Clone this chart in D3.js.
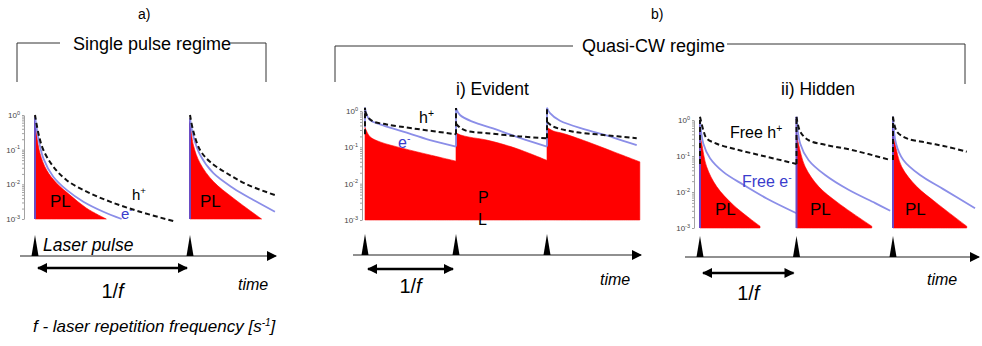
<!DOCTYPE html>
<html lang="en">
<head>
<meta charset="UTF-8">
<script src="https://cdn.jsdelivr.net/npm/d3@7"></script>
<title>Single pulse vs quasi-CW regime</title>
<style>
    body { margin: 0; background: #fff; }
    svg { display: block; font-family: "Liberation Sans", Arial, sans-serif; }
</style>
</head>
<body>
<script>
// time in laser periods (1/f) after each pulse, value = log10 of normalised density

// a) single pulse regime
const aPulses = [0, 1];
const aPL1 = [[0, -0.02], [0.011, -0.58], [0.032, -1.1], [0.075, -1.59], [0.14, -1.97], [0.226, -2.31], [0.333, -2.69], [0.46, -3.0]];
const aPL2 = [[0, -0.1], [0.022, -0.87], [0.065, -1.39], [0.151, -1.92], [0.28, -2.4], [0.462, -3.0]];
const aE1 = [[0, -0.05], [0.022, -0.67], [0.054, -1.25], [0.118, -1.78], [0.204, -2.16], [0.312, -2.5], [0.441, -2.79], [0.559, -3.0]];
const aE2 = [[0, -0.1], [0.022, -0.62], [0.065, -1.15], [0.151, -1.68], [0.28, -2.11], [0.409, -2.45], [0.548, -2.79]];
const aH1 = [[0, 0], [0.022, -0.53], [0.054, -1.01], [0.118, -1.49], [0.204, -1.88], [0.333, -2.21], [0.484, -2.5], [0.677, -2.79], [0.892, -3.06]];
const aH2 = [[0, 0], [0.022, -0.48], [0.065, -1.01], [0.129, -1.35], [0.237, -1.68], [0.366, -2.0], [0.548, -2.31]];

// b-i) quasi-CW, evident
const bPulses = [0, 1, 2];
const bPL1 = [[0, -0.45], [0.055, -0.71], [0.165, -0.85], [0.42, -1.03], [0.714, -1.21], [1.0, -1.38]];
const bPL2 = [[0, -0.6], [0.05, -0.66], [0.15, -0.72], [0.337, -0.8], [0.65, -1.02], [1.0, -1.36]];
const bPL3 = [[0, -0.45], [0.07, -0.55], [0.18, -0.62], [0.436, -0.84], [0.729, -1.12], [1.02, -1.4]];
const bE1 = [[0, 0.09], [0.019, -0.11], [0.055, -0.25], [0.165, -0.37], [0.42, -0.57], [0.714, -0.8], [1.0, -0.98]];
const bE2 = [[0, 0.08], [0.044, -0.11], [0.187, -0.3], [0.407, -0.48], [0.7, -0.74], [1.0, -0.98]];
const bE3 = [[0, 0.09], [0.033, -0.06], [0.143, -0.27], [0.436, -0.52], [0.729, -0.73], [0.986, -0.94]];
const bH1 = [[0, 0], [0.036, -0.18], [0.091, -0.29], [0.238, -0.37], [0.531, -0.48], [1.0, -0.64]];
const bH2 = [[0, -0.35], [0.05, -0.47], [0.12, -0.55], [0.34, -0.61], [0.7, -0.7], [1.0, -0.75]];
const bH3 = [[0, -0.3], [0.07, -0.43], [0.29, -0.57], [0.62, -0.66], [0.986, -0.75]];

// b-ii) quasi-CW, hidden
const cPulses = [0, 1, 2];
const cPL1 = [[0, -0.39], [0.018, -0.65], [0.069, -1.3], [0.173, -1.85], [0.345, -2.36], [0.622, -2.95]];
const cPL2 = [[0, -0.39], [0.02, -0.65], [0.09, -1.3], [0.23, -1.85], [0.435, -2.31], [0.78, -2.95]];
const cPL3 = [[0, -0.39], [0.021, -0.65], [0.09, -1.3], [0.246, -1.85], [0.453, -2.31], [0.764, -2.95]];
const cE1 = [[0, 0], [0.034, -0.65], [0.104, -1.06], [0.241, -1.44], [0.449, -1.8], [0.691, -2.18], [1.0, -2.59]];
const cE2 = [[0, 0.09], [0.038, -0.65], [0.124, -1.11], [0.297, -1.53], [0.539, -1.94], [0.816, -2.31], [0.971, -2.52]];
const cE3 = [[0, 0.09], [0.031, -0.65], [0.107, -1.11], [0.28, -1.53], [0.521, -1.92], [0.85, -2.45]];
const cH1 = [[0, 0.09], [0.034, -0.28], [0.069, -0.51], [0.173, -0.66], [0.38, -0.82], [0.656, -1.0], [1.0, -1.22]];
const cH2 = [[0, 0.09], [0.038, -0.32], [0.124, -0.56], [0.297, -0.69], [0.57, -0.83], [0.97, -1.11]];
const cH3 = [[0, 0.09], [0.04, -0.32], [0.143, -0.51], [0.35, -0.63], [0.556, -0.74], [0.764, -0.88]];

// y axis decades
const yDecades = [0, -1, -2, -3];
const yDecadeLabels = ["0", "-1", "-2", "-3"];

const RED = "#ff0000", BLUE = "#8b8ee8", EDGE = "#6a4bc4", TXTBLUE = "#3a3ccc";

const svg = d3.select("body").append("svg")
    .attr("width", 982)
    .attr("height", 346);

const defs = svg.append("defs");
defs.append("marker")
    .attr("id", "head")
    .attr("viewBox", "0 0 10 10")
    .attr("refX", 9).attr("refY", 5)
    .attr("markerUnits", "userSpaceOnUse")
    .attr("markerWidth", 11).attr("markerHeight", 10)
    .attr("orient", "auto-start-reverse")
    .append("path").attr("d", "M0,0L10,5L0,10Z").attr("fill", "#000");

const panels = [
    { pulses: aPulses, pl: [aPL1, aPL2], e: [aE1, aE2], h: [aH1, aH2],
      x0: 35, period: 155, yTop: 115, yBot: 219, yAxisX: 24,
      axisY: 256, axisX: [20, 276], arrowY: 268, fY: 298, time: [238, 290],
      edge: true, hJoin: false },
    { pulses: bPulses, pl: [bPL1, bPL2, bPL3], e: [bE1, bE2, bE3], h: [bH1, bH2, bH3],
      x0: 365, period: 91, yTop: 111, yBot: 220, yAxisX: 362,
      axisY: 255, axisX: [353, 641], arrowY: 269, fY: 293, time: [600, 285],
      edge: false, hJoin: true },
    { pulses: cPulses, pl: [cPL1, cPL2, cPL3], e: [cE1, cE2, cE3], h: [cH1, cH2, cH3],
      x0: 700, period: 96.5, yTop: 120, yBot: 228, yAxisX: 694,
      axisY: 257, axisX: [685, 979], arrowY: 273, fY: 300, time: [927, 285],
      edge: true, hJoin: true }
];

const last = arr => arr[arr.length - 1][1];
const smooth = d3.curveCatmullRom.alpha(0.5);

panels.forEach(p => {
    const x = d3.scaleLinear().domain([0, 1]).range([p.x0, p.x0 + p.period]);
    const y = d3.scaleLog().domain([1e-3, 1]).range([p.yBot, p.yTop]);
    const g = svg.append("g");

    const pts = (arr, k) => arr.map(([t, v]) => ({ t: p.pulses[k] + t, v: Math.pow(10, v) }));
    const area = d3.area().curve(smooth)
        .x(d => x(d.t)).y0(y(1e-3)).y1(d => y(d.v));
    const line = d3.line().curve(smooth)
        .x(d => x(d.t)).y(d => y(d.v));
    const vline = (k, from, to) => g.append("line")
        .attr("x1", x(p.pulses[k])).attr("x2", x(p.pulses[k]))
        .attr("y1", y(Math.pow(10, from))).attr("y2", y(Math.pow(10, to)));

    // log axis
    const ax = g.append("g")
        .attr("transform", `translate(${p.yAxisX},0)`)
        .call(d3.axisLeft(y).tickValues(y.ticks()).tickSize(2).tickSizeOuter(0).tickFormat(""));
    ax.select(".domain").attr("stroke", "#8a8a8a").attr("stroke-width", 0.8);
    ax.selectAll(".tick line").attr("stroke", "#8a8a8a").attr("stroke-width", 0.8);
    yDecades.forEach((d, i) => {
        const t = g.append("text")
            .attr("x", p.yAxisX - 4).attr("y", y(Math.pow(10, d)) + 3)
            .attr("text-anchor", "end").attr("font-size", 8).attr("fill", "#444");
        t.append("tspan").text("10");
        t.append("tspan").attr("dy", -3.5).attr("font-size", 5.5).text(yDecadeLabels[i]);
    });

    // PL
    p.pl.forEach((arr, k) => {
        g.append("path").attr("d", area(pts(arr, k)))
            .attr("fill", RED).attr("stroke", RED).attr("stroke-width", 0.6);
    });

    // free electrons
    p.e.forEach((arr, k) => {
        const from = p.edge ? -3 : (k > 0 ? last(p.e[k - 1]) : p.pl[0][0][1]);
        vline(k, from, arr[0][1])
            .attr("stroke", p.edge ? EDGE : BLUE).attr("stroke-width", p.edge ? 2 : 1.8);
        g.append("path").attr("d", line(pts(arr, k)))
            .attr("fill", "none").attr("stroke", BLUE).attr("stroke-width", 1.8);
    });

    // free holes
    p.h.forEach((arr, k) => {
        if (p.hJoin) {
            const from = k > 0 ? last(p.h[k - 1]) : last(p.h[0]);
            vline(k, from, p.e[k][0][1])
                .attr("stroke", "#111").attr("stroke-width", 2).attr("stroke-dasharray", "5,3");
        }
        g.append("path").attr("d", line(pts(arr, k)))
            .attr("fill", "none").attr("stroke", "#111")
            .attr("stroke-width", 2).attr("stroke-dasharray", "5,3");
    });

    // time axis and laser pulses
    g.append("line")
        .attr("x1", p.axisX[0]).attr("x2", p.axisX[1])
        .attr("y1", p.axisY).attr("y2", p.axisY)
        .attr("stroke", "#222").attr("stroke-width", 1.2)
        .attr("marker-end", "url(#head)");
    g.selectAll(".pulse").data(p.pulses).enter().append("path")
        .attr("d", d => `M${x(d) - 3.5},${p.axisY}L${x(d)},${p.axisY - 21}L${x(d) + 3.5},${p.axisY}Z`)
        .attr("fill", "#000");

    // 1/f arrow
    g.append("line")
        .attr("x1", x(p.pulses[0]) + 3).attr("x2", x(p.pulses[1]) - 3)
        .attr("y1", p.arrowY).attr("y2", p.arrowY)
        .attr("stroke", "#000").attr("stroke-width", 2.4)
        .attr("marker-start", "url(#head)").attr("marker-end", "url(#head)");
    const f = g.append("text")
        .attr("x", (x(p.pulses[0]) + x(p.pulses[1])) / 2).attr("y", p.fY)
        .attr("text-anchor", "middle").attr("font-size", 20);
    f.append("tspan").text("1/");
    f.append("tspan").attr("font-style", "italic").text("f");

    g.append("text").attr("x", p.time[0]).attr("y", p.time[1])
        .attr("font-size", 16).attr("font-style", "italic").text("time");
});

// text helper with optional superscript
function label(x, y, txt, sup, size, color, extra) {
    const t = svg.append("text").attr("x", x).attr("y", y)
        .attr("font-size", size).attr("fill", color || "#000");
    if (extra) t.attr("font-style", extra);
    t.append("tspan").text(txt);
    if (sup) t.append("tspan").attr("dy", -size * 0.4).attr("font-size", size * 0.65).text(sup);
    return t;
}

// headers and brackets
label(138, 19, "a)", null, 14);
label(651, 19, "b)", null, 14);
label(73, 50, "Single pulse regime", null, 18);
label(582, 52, "Quasi-CW regime", null, 18);
label(456, 95, "i) Evident", null, 17.5);
label(781, 95, "ii) Hidden", null, 17.5);
svg.append("path")
    .attr("d", "M17,82V43H60M230,43H266V82M335,82V46H573M727,44H965V84")
    .attr("fill", "none").attr("stroke", "#333").attr("stroke-width", 1);

// curve labels
label(50, 207, "PL", null, 17);
label(200, 207, "PL", null, 17);
label(132, 200, "h", "+", 15);
label(121, 219, "e", "-", 15, TXTBLUE);
label(43, 251, "Laser pulse", null, 17.5, "#000", "italic");

label(419, 123, "h", "+", 16);
label(398, 148, "e", "-", 16, TXTBLUE);
label(478, 203, "P", null, 16);
label(478, 225, "L", null, 16);

label(730, 138, "Free h", "+", 16);
label(742, 187, "Free e", "-", 16, TXTBLUE);
label(715, 215, "PL", null, 17);
label(810, 215, "PL", null, 17);
label(905, 215, "PL", null, 17);

// footnote
const foot = svg.append("text").attr("x", 33).attr("y", 332)
    .attr("font-size", 17).attr("font-style", "italic");
foot.append("tspan").text("f  - laser repetition frequency [s");
foot.append("tspan").attr("dy", -6).attr("font-size", 10).text("-1");
foot.append("tspan").attr("dy", 6).text("]");
</script>
</body>
</html>
